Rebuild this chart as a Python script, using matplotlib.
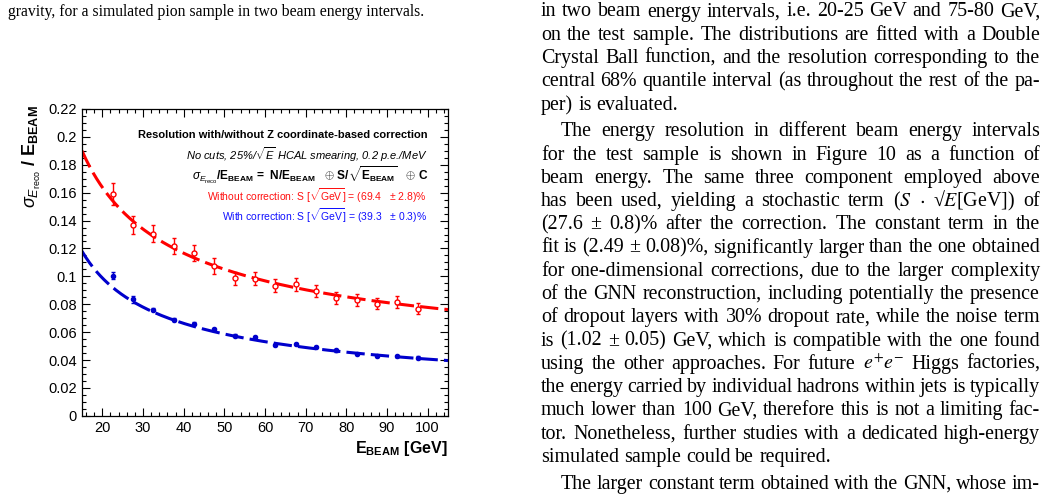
import matplotlib
matplotlib.use("Agg")
import matplotlib.pyplot as plt
from matplotlib.ticker import MultipleLocator
import numpy as np

# beam energy bin centres [GeV]
energy = [22.5, 27.5, 32.5, 37.5, 42.5, 47.5, 52.5, 57.5,
          62.5, 67.5, 72.5, 77.5, 82.5, 87.5, 92.5, 97.5]

# relative resolution without the Z correction (red, open circles)
res_without = [0.159, 0.137, 0.1307, 0.1218, 0.117, 0.1074, 0.0985, 0.0983,
               0.0934, 0.0942, 0.0894, 0.0846, 0.0829, 0.0805, 0.0817, 0.0767]
err_without = [0.0079, 0.0066, 0.0063, 0.006, 0.0057, 0.0055, 0.0045, 0.0048,
               0.0045, 0.0045, 0.0045, 0.0042, 0.0042, 0.0042, 0.0042, 0.004]

# relative resolution with the Z correction (blue, full circles)
res_with = [0.1006, 0.0834, 0.0762, 0.069, 0.0661, 0.0623, 0.0574, 0.0562,
            0.051, 0.0517, 0.0493, 0.0469, 0.0443, 0.0431, 0.0431, 0.0418]
err_with = [0.0028, 0.0022, 0.0012, 0.0012, 0.001, 0.001, 0.001, 0.001,
            0.0008, 0.0008, 0.0008, 0.0008, 0.0008, 0.0008, 0.0008, 0.0008]

# fit sigma/E = N/E (+) S/sqrt(E) (+) C  ->  (N, S, C)
fit_without = (0.80, 0.694, 0.034)
fit_with = (0.90, 0.393, 0.005)
fit_range = (15, 105)

caption = "gravity, for a simulated pion sample in two beam energy intervals."

# right column of the page: (text, indent, justified)
page_lines = [
    ("in two beam energy intervals, i.e. 20-25 GeV and 75-80 GeV,", False, True),
    ("on the test sample. The distributions are fitted with a Double", False, True),
    ("Crystal Ball function, and the resolution corresponding to the", False, True),
    ("central 68% quantile interval (as throughout the rest of the pa-", False, True),
    ("per) is evaluated.", False, False),
    ("The energy resolution in different beam energy intervals", True, True),
    ("for the test sample is shown in Figure 10 as a function of", False, True),
    ("beam energy. The same three component employed above", False, True),
    (r"has been used, yielding a stochastic term ($S$ $\cdot$ √$E$[GeV]) of", False, True),
    ("(27.6 ± 0.8)% after the correction. The constant term in the", False, True),
    ("fit is (2.49 ± 0.08)%, significantly larger than the one obtained", False, True),
    ("for one-dimensional corrections, due to the larger complexity", False, True),
    ("of the GNN reconstruction, including potentially the presence", False, True),
    ("of dropout layers with 30% dropout rate, while the noise term", False, True),
    ("is (1.02 ± 0.05) GeV, which is compatible with the one found", False, True),
    (r"using the other approaches. For future $e^{+}e^{-}$ Higgs factories,", False, True),
    ("the energy carried by individual hadrons within jets is typically", False, True),
    ("much lower than 100 GeV, therefore this is not a limiting fac-", False, True),
    ("tor. Nonetheless, further studies with a dedicated high-energy", False, True),
    ("simulated sample could be required.", False, False),
    ("The larger constant term obtained with the GNN, whose im-", True, True),
]


def resolution(e, pars):
    n, s, c = pars
    return np.sqrt((n / e) ** 2 + s ** 2 / e + c ** 2)


plt.rcParams["font.family"] = "Liberation Sans"
plt.rcParams["mathtext.fontset"] = "custom"
plt.rcParams["mathtext.rm"] = "Liberation Sans"
plt.rcParams["mathtext.it"] = "Liberation Sans:italic"
plt.rcParams["mathtext.bf"] = "Liberation Sans:bold"
plt.rcParams["mathtext.sf"] = "Liberation Sans"

W, H = 1054, 494
fig = plt.figure(figsize=(W / 100, H / 100), dpi=100)


def px(x, y):
    return x / W, 1 - y / H


ax = fig.add_axes([82 / W, 1 - 415.8 / H, 366 / W, 306.8 / H])

red = "#ff0000"
blue = "#0000cc"

e_fit = np.linspace(fit_range[0], fit_range[1], 300)
ax.plot(e_fit, resolution(e_fit, fit_without), color=red, lw=2.2, dashes=(6, 2), zorder=2)
ax.plot(e_fit, resolution(e_fit, fit_with), color=blue, lw=2.2, dashes=(6, 2), zorder=2)

ax.errorbar(energy, res_without, yerr=err_without, fmt="o", color=red, mfc="white",
            mec=red, ms=3.6, mew=1.0, elinewidth=1.0, capsize=1.3, zorder=3)
ax.errorbar(energy, res_with, yerr=err_with, fmt="o", color=blue, ms=3.0,
            elinewidth=1.0, capsize=1.3, zorder=3)

ax.set_xlim(15, 105)
ax.set_ylim(0, 0.22)
ax.xaxis.set_major_locator(MultipleLocator(10))
ax.xaxis.set_minor_locator(MultipleLocator(2))
ax.yaxis.set_minor_locator(MultipleLocator(0.005))
ax.set_yticks(np.arange(0, 0.221, 0.02))
ax.set_yticklabels(["0", "0.02", "0.04", "0.06", "0.08", "0.1", "0.12",
                    "0.14", "0.16", "0.18", "0.2", "0.22"])
ax.tick_params(which="both", direction="in", top=True, right=True, labelsize=10.5)
ax.tick_params(which="major", length=5.8, width=0.8)
ax.tick_params(which="minor", length=2.9, width=0.8)
ax.tick_params(axis="y", pad=3.6)
ax.tick_params(axis="x", pad=4)
for sp in ax.spines.values():
    sp.set_linewidth(0.9)

# axis titles, ROOT style
fig.text(*px(32, 157), r"$\sigma_{E_{\rm reco}}$ / $\mathbf{E_{BEAM}}$", rotation=90,
         ha="center", va="center", fontsize=13, fontweight="bold", math_fontfamily="custom")
fig.text(*px(448, 448), r"$\mathbf{E_{BEAM}}$ [GeV]", ha="right", va="center",
         fontsize=11.5, fontweight="bold", math_fontfamily="custom")

# annotations inside the frame
tx = (428 - 82) / 366
ax.text(tx, 0.915, "Resolution with/without Z coordinate-based correction",
        transform=ax.transAxes, ha="right", va="center", fontsize=8, fontweight="bold")
ax.text(tx, 0.850, r"No cuts, 25%/$\sqrt{E}$ HCAL smearing, 0.2 p.e./MeV",
        transform=ax.transAxes, ha="right", va="center", fontsize=8, style="italic",
        math_fontfamily="custom")
ax.text(tx, 0.783,
        r"$\sigma_{E_{\rm reco}}$/$\mathbf{E_{BEAM}}$ =  N/$\mathbf{E_{BEAM}}$   $\oplus$ "
        r"S/$\sqrt{\mathbf{E_{BEAM}}}$   $\oplus$ C",
        transform=ax.transAxes, ha="right", va="center", fontsize=8.6, fontweight="bold",
        math_fontfamily="custom")
ax.text(tx - 0.003, 0.716, r"Without correction: S [$\sqrt{\mathrm{GeV}}$] = (69.4   $\pm$ 2.8)%",
        transform=ax.transAxes, ha="right", va="center", fontsize=7.5, color="#ff1010",
        math_fontfamily="custom")
ax.text(tx - 0.003, 0.651, r"With correction: S [$\sqrt{\mathrm{GeV}}$] = (39.3   $\pm$ 0.3)%",
        transform=ax.transAxes, ha="right", va="center", fontsize=7.5, color="#1010ff",
        math_fontfamily="custom")

# surrounding page text
serif = "Liberation Serif"
fig.text(*px(8, 16.5), caption, fontsize=11.3, family=serif, va="baseline")

renderer = fig.canvas.get_renderer()
page_size = 14.4
x_left, x_right, indent = 541, 1040, 20


def put_line(text, y, ind, justify):
    words = text.split(" ")
    items = [fig.text(0, 0, w, fontsize=page_size, family=serif, va="baseline",
                      math_fontfamily="stix") for w in words]
    widths = [t.get_window_extent(renderer).width for t in items]
    x0 = x_left + (indent if ind else 0)
    gap = page_size * 100 / 72 * 0.25
    if justify and len(words) > 1:
        gap = (x_right - x0 - sum(widths)) / (len(words) - 1)
    x = x0
    for t, w in zip(items, widths):
        t.set_position(px(x, y))
        x += w + gap


y = 16.5
for i, (text, ind, justify) in enumerate(page_lines):
    if i > 0:
        y += 23.25 + (3.5 if ind else 0)
    put_line(text, y, ind, justify)

fig.savefig("out.png", dpi=100)
